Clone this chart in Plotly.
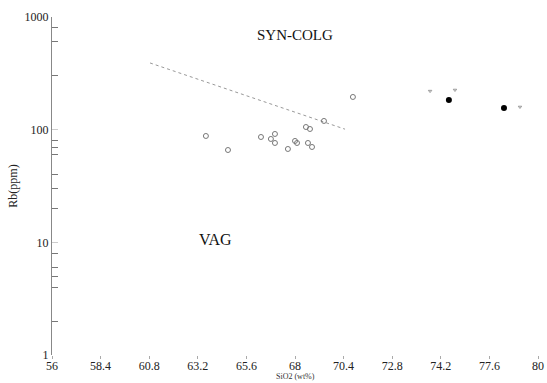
import plotly.graph_objects as go

# Open-circle samples (SiO2 wt%, Rb ppm)
open_sio2 = [63.6, 64.69, 66.32, 66.81, 67.01, 67.01, 67.65, 68.0, 68.10, 68.54, 68.74, 68.64, 68.84, 69.43, 70.86]
open_rb = [87.9, 66.0, 86.1, 82.7, 91.6, 76.2, 67.4, 79.4, 76.2, 105.6, 101.4, 76.2, 70.2, 119.5, 195.1]

# Filled samples
filled_sio2 = [75.60, 78.32]
filled_rb = [183.4, 155.8]

# Small "v" marks
vmark_sio2 = [74.67, 75.90, 79.11]
vmark_rb = [220, 225, 159]

# Dotted boundary line
line_sio2 = [60.84, 70.47]
line_rb = [391, 101]

# Axis tick labels
x_tickvals = [56 + 2.4 * i for i in range(11)]
x_ticktext = ["56", "58.4", "60.8", "63.2", "65.6", "68", "70.4", "72.8", "74.2", "77.6", "80"]
y_tickvals = [1, 10, 100, 1000]
y_ticktext = ["1", "10", "100", "1000"]
y_minor = [2, 4, 5, 6, 8, 20, 30, 40, 60, 70, 80, 300, 600, 800]

FONT = "Liberation Serif, Times New Roman, serif"

fig = go.Figure()
fig.add_trace(go.Scatter(x=line_sio2, y=line_rb, mode="lines",
                         line=dict(color="#999", width=1, dash="dot"),
                         hoverinfo="skip", showlegend=False))
fig.add_trace(go.Scatter(x=open_sio2, y=open_rb, mode="markers",
                         marker=dict(symbol="circle-open", size=5, color="#777", line=dict(width=1)),
                         showlegend=False))
fig.add_trace(go.Scatter(x=filled_sio2, y=filled_rb, mode="markers",
                         marker=dict(symbol="circle", size=6, color="#000"),
                         showlegend=False))
fig.add_trace(go.Scatter(x=vmark_sio2, y=vmark_rb, mode="markers",
                         marker=dict(symbol="triangle-down-open", size=3, color="#999", line=dict(width=1)),
                         showlegend=False))

fig.add_annotation(x=68.0, y=2.840, yref="y", text="SYN-COLG", showarrow=False,
                   font=dict(family=FONT, size=15, color="#111"))
fig.add_annotation(x=64.05, y=1.021, yref="y", text="VAG", showarrow=False,
                   font=dict(family=FONT, size=16, color="#111"))
# x-axis title placed just under the tick labels
fig.add_annotation(x=68.0, y=0, yref="paper", yanchor="bottom", yshift=-27,
                   text="SiO2 (wt%)", showarrow=False, borderpad=0,
                   font=dict(family=FONT, size=8, color="#333"))

fig.update_layout(
    width=547, height=383,
    margin=dict(l=52, r=9, t=17, b=28),
    paper_bgcolor="white", plot_bgcolor="white",
    font=dict(family=FONT, size=12, color="#222"),
    xaxis=dict(range=[56, 80], tickmode="array", tickvals=x_tickvals, ticktext=x_ticktext,
               automargin=False,
               showline=False, showgrid=False, zeroline=False,
               ticks="outside", ticklen=3, tickcolor="#aaa", tickwidth=1,
               ticklabelstandoff=-3,
               tickfont=dict(family=FONT, size=12, color="#222")),
    yaxis=dict(type="log", range=[0, 3], tickmode="array", tickvals=y_tickvals, ticktext=y_ticktext,
               automargin=False,
               showline=True, linecolor="#888", linewidth=1,
               showgrid=False, zeroline=False,
               ticks="inside", ticklen=6, tickcolor="#ccc",
               minor=dict(tickvals=y_minor, ticks="inside", ticklen=6, tickcolor="#777", showgrid=False),
               tickfont=dict(family=FONT, size=12, color="#222"),
               title=dict(text="Rb(ppm)", font=dict(family=FONT, size=12, color="#222"), standoff=4)),
)

fig.write_html("out.html", config={"displayModeBar": False})
